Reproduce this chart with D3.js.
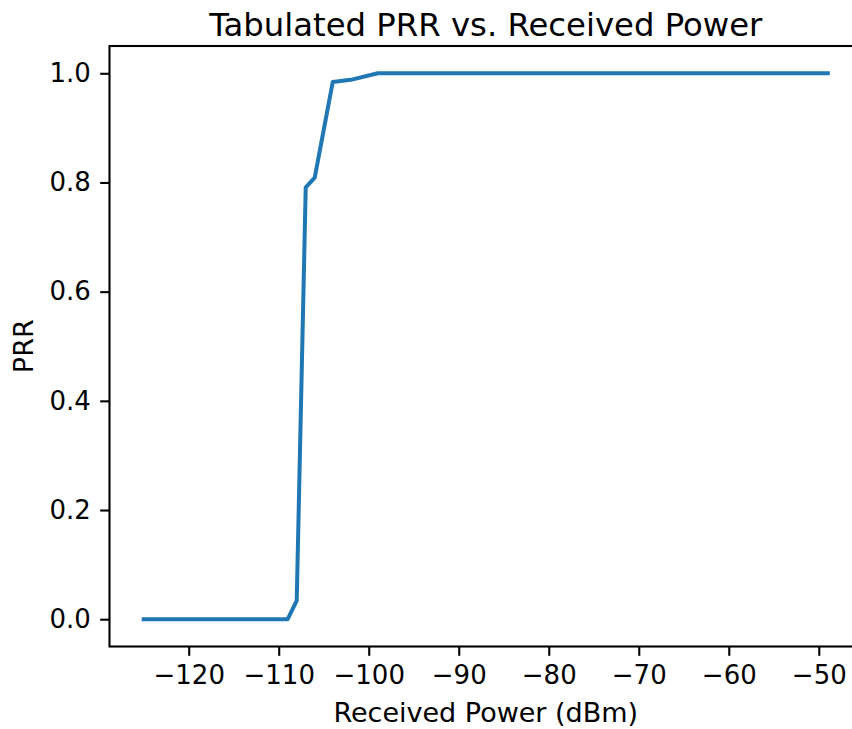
<!DOCTYPE html>
<html>
<head>
<meta charset="utf-8">
<script src="https://cdn.jsdelivr.net/npm/d3@7"></script>
<style>
    body { margin: 0; background: #fff; }
    svg { display: block; }
    text { font-family: "DejaVu Sans", sans-serif; fill: #000; }
</style>
</head>
<body>
<div id="chart"></div>
<script>
// tabulated PRR (breakpoints only)
const powerDbm = [-125, -109, -108, -107, -106, -104, -102, -99, -49];
const prrValues = [0, 0, 0.034, 0.791, 0.809, 0.984, 0.988, 1.0, 1.0];

const xTicks = [-120, -110, -100, -90, -80, -70, -60, -50];
const yTicks = [0, 0.2, 0.4, 0.6, 0.8, 1.0];
const yTickLabels = ["0.0", "0.2", "0.4", "0.6", "0.8", "1.0"];

const chartTitle = "Tabulated PRR vs. Received Power";
const xLabel = "Received Power (dBm)";
const yLabel = "PRR";

const width = 852, height = 729;
// the axes runs past the right edge of the picture
const margin = { top: 46, right: -10, bottom: 82.5, left: 109.5 };
const innerW = width - margin.left - margin.right;
const innerH = height - margin.top - margin.bottom;

const tickFont = 26, labelFont = 27, titleFont = 32.3;

let svg = d3.select("#chart")
    .append("svg")
    .attr("width", width)
    .attr("height", height);

svg.append("rect")
    .attr("width", width)
    .attr("height", height)
    .attr("fill", "#fff");

let g = svg.append("g")
    .attr("transform", `translate(${margin.left}, ${margin.top})`);

// matplotlib-style 5% margins around the data
let xExt = d3.extent(powerDbm);
let xPad = (xExt[1] - xExt[0]) * 0.05;
let x = d3.scaleLinear()
    .domain([xExt[0] - xPad, xExt[1] + xPad])
    .range([0, innerW]);

let yExt = d3.extent(prrValues);
let yPad = (yExt[1] - yExt[0]) * 0.05;
let y = d3.scaleLinear()
    .domain([yExt[0] - yPad, yExt[1] + yPad])
    .range([innerH, 0]);

let xAxis = d3.axisBottom(x)
    .tickValues(xTicks)
    .tickFormat(d => d3.format("d")(d).replace("-", "\u2212"))
    .tickSize(9.3)
    .tickSizeOuter(0)
    .tickPadding(9.3);

let yAxis = d3.axisLeft(y)
    .tickValues(yTicks)
    .tickFormat((d, i) => yTickLabels[i])
    .tickSize(9.3)
    .tickSizeOuter(0)
    .tickPadding(9.3);

let xg = g.append("g")
    .attr("class", "x-axis")
    .attr("transform", `translate(0, ${innerH})`)
    .call(xAxis);
xg.select(".domain").remove();
xg.selectAll(".tick line").attr("stroke", "#000").attr("stroke-width", 2.1);
xg.selectAll(".tick text")
    .attr("font-size", tickFont)
    .attr("font-family", "DejaVu Sans")
    .attr("fill", "#000");

let yg = g.append("g")
    .attr("class", "y-axis")
    .call(yAxis);
yg.select(".domain").remove();
yg.selectAll(".tick line").attr("stroke", "#000").attr("stroke-width", 2.1);
yg.selectAll(".tick text")
    .attr("font-size", tickFont)
    .attr("font-family", "DejaVu Sans")
    .attr("fill", "#000");

// the curve
let lineGenerator = d3.line()
    .x(d => x(d[0]))
    .y(d => y(d[1]));

g.append("path")
    .datum(d3.zip(powerDbm, prrValues))
    .attr("d", lineGenerator)
    .attr("fill", "none")
    .attr("stroke", "#1f77b4")
    .attr("stroke-width", 4)
    .attr("stroke-linejoin", "round")
    .attr("stroke-linecap", "square");

// spines
g.append("rect")
    .attr("width", innerW)
    .attr("height", innerH)
    .attr("fill", "none")
    .attr("stroke", "#000")
    .attr("stroke-width", 2.1);

// titles
svg.append("text")
    .attr("x", margin.left + innerW / 2)
    .attr("y", margin.top - 10)
    .attr("text-anchor", "middle")
    .attr("font-size", titleFont)
    .text(chartTitle);

svg.append("text")
    .attr("x", margin.left + innerW / 2)
    .attr("y", 722)
    .attr("text-anchor", "middle")
    .attr("font-size", labelFont)
    .text(xLabel);

svg.append("text")
    .attr("transform", `translate(33, ${margin.top + innerH / 2}) rotate(-90)`)
    .attr("text-anchor", "middle")
    .attr("font-size", labelFont)
    .text(yLabel);
</script>
</body>
</html>
